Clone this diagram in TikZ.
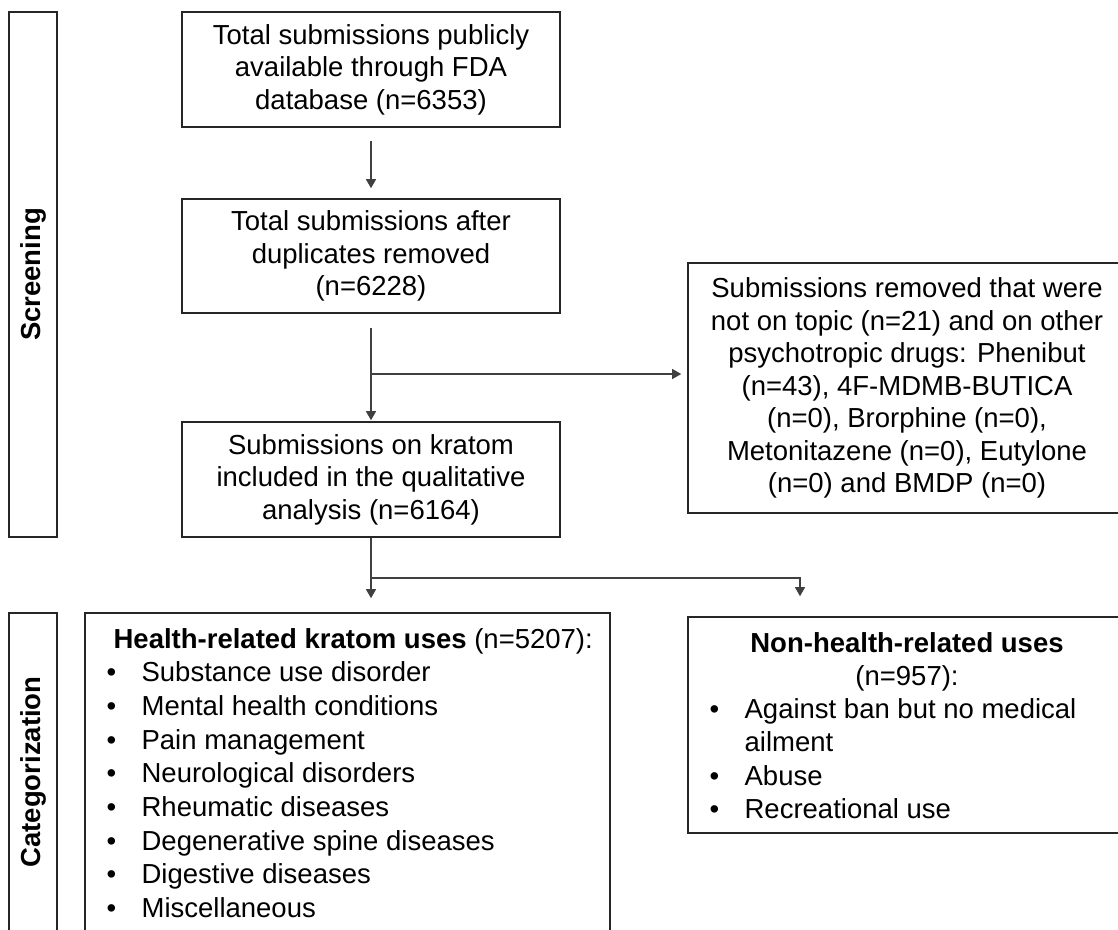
\documentclass[tikz,border=0pt]{standalone}
\usepackage{fontspec}
\setmainfont{Liberation Sans}
\usetikzlibrary{arrows.meta}

\newcommand{\bulletitem}[1]{\makebox[35pt][l]{\textbullet}#1}

\begin{document}
\begin{tikzpicture}[
                    x=1pt,
                    y=-1pt,
                    >={Triangle[length=9pt,width=10pt]},
                    font=\fontsize{27.5}{32.5}\selectfont,
                    semithick
                ]
                \tikzstyle{flowbox}=[
                    draw=black!85,
                    line width=1.6pt,
                    align=center,
                    inner sep=0pt
                ]
                \tikzstyle{sidebox}=[
                    draw=black!85,
                    line width=1.6pt,
                    inner sep=0pt,
                    minimum width=48pt
                ]
                \tikzstyle{sidelabel}=[
                    rotate=90,
                    font=\fontsize{27.5}{32.5}\selectfont\bfseries
                ]
                \tikzstyle{link}=[
                    ->,
                    draw=black!75,
                    line width=1.1pt
                ]

                \useasboundingbox (0,0) rectangle (1118,929);
                \clip (0,0) rectangle (1118,929);

                % stage panels on the left
                \node[sidebox, minimum height=525pt] (screenbox) at (33,274.5) {};
                \node[sidelabel] (screenlabel) at (screenbox.center) {Screening};
                \node[sidebox, minimum height=318pt] (catbox) at (33,772) {};
                \node[sidelabel] (catlabel) at (catbox.center) {Categorization};

                % screening boxes
                \node[flowbox, minimum width=378pt, minimum height=115pt] (total) at (371,69.5)
                    {Total submissions publicly\\available through FDA\\database (n=6353)};
                \node[flowbox, minimum width=378pt, minimum height=114pt] (dedup) at (371,256)
                    {Total submissions after\\duplicates removed\\(n=6228)};
                \node[flowbox, minimum width=378pt, minimum height=115pt] (kratom) at (371,479.5)
                    {Submissions on kratom\\included in the qualitative\\analysis (n=6164)};
                \node[flowbox, minimum width=438pt, minimum height=250pt] (removed) at (907,388)
                    {Submissions removed that were\\not on topic (n=21) and on other\\psychotropic drugs: Phenibut\\(n=43), 4F-MDMB-BUTICA\\(n=0), Brorphine (n=0),\\Metonitazene (n=0), Eutylone\\(n=0) and BMDP (n=0)};

                % categorization boxes
                \node[flowbox, minimum width=525pt, minimum height=318pt] (health) at (347.5,772) {};
                \node[anchor=base west] (healthtitle) at (110,648)
                    {\textbf{Health-related kratom uses} (n=5207):};
                \foreach \use [count=\i] in {Substance use disorder, Mental health conditions,
                        Pain management, Neurological disorders, Rheumatic diseases,
                        Degenerative spine diseases, Digestive diseases, Miscellaneous}
                    \node[anchor=base west] (healthitem\i) at (103,648+33.7*\i) {\bulletitem{\use}};

                \node[flowbox, minimum width=438pt, minimum height=216pt] (nonhealth) at (907,725) {};
                \node[anchor=base] (nonhealthtitle) at (907,652) {\textbf{Non-health-related uses}};
                \node[anchor=base] (nonhealthcount) at (907,685) {(n=957):};
                \node[anchor=base west] (ban) at (706,718) {\bulletitem{Against ban but no medical}};
                \node[anchor=base west] (ban2) at (741,751) {ailment};
                \node[anchor=base west] (abuse) at (706,785) {\bulletitem{Abuse}};
                \node[anchor=base west] (recreation) at (706,818) {\bulletitem{Recreational use}};

                % connectors
                \coordinate (split1) at (371,374);
                \coordinate (split2) at (371,578);
                \coordinate (turn2) at (800,578);

                \path
                (total) edge [link, shorten <=13pt, shorten >=10pt]
                    (dedup)
                (dedup) edge [link, shorten <=14pt, shorten >=1pt]
                    (kratom)
                (split1) edge [link, shorten >=6pt]
                    (split1 -| removed.west)
                (kratom.south) edge [link, shorten >=14pt]
                    (kratom.south |- health.north)
                ;
                \draw[link, shorten >=20pt] (split2) -- (turn2) -- (turn2 |- nonhealth.north);
            \end{tikzpicture}
\end{document}
